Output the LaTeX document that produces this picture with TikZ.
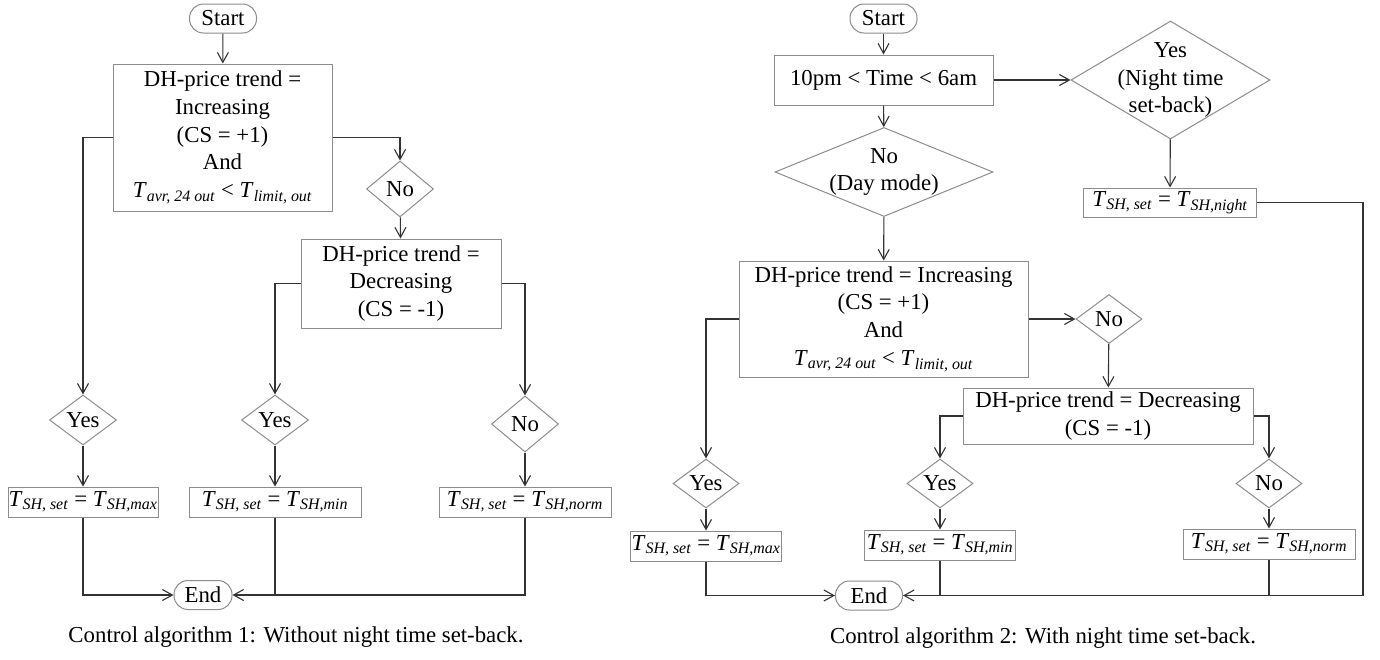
\documentclass[tikz,border=0pt]{standalone}
\usepackage{fontspec}
\setmainfont{Liberation Serif}
\usetikzlibrary{shapes.geometric,arrows.meta}
\newcommand{\tv}[2]{\textit{#1}\textsubscript{\textit{#2}}}
\begin{document}
\begin{tikzpicture}[x=1pt, y=-1pt, >={Straight Barb[length=10pt,width=11pt]},
    every node/.style={font=\fontsize{22.8}{27.7}\selectfont},
    box/.style={draw=black!45, line width=1pt, inner sep=0pt, align=center},
    dec/.style={draw=black!45, line width=1pt, diamond, aspect=1.35, inner sep=0pt, align=center},
    term/.style={draw=black!45, line width=1pt, rounded corners=14pt, inner sep=0pt},
    flow/.style={draw=black!80, line width=1.1pt}]
    \useasboundingbox (0,0) rectangle (1380,659);

    % algorithm 1
    \node[term, minimum width=67, minimum height=29] (s1) at (223,18.5) {Start};
    \node[box, minimum width=219, minimum height=147] (c1) at (222.5,137.5)
        {DH-price trend =\\Increasing\\(CS = +1)\\And\\\tv{T}{avr, 24 out} < \tv{T}{limit, out}};
    \node[dec, minimum width=67, minimum height=56] (n1) at (400,189) {No};
    \node[box, minimum width=200, minimum height=89] (c2) at (401,283.5)
        {DH-price trend =\\Decreasing\\(CS = -1)};
    \node[dec, minimum width=67, minimum height=50] (y1) at (83,420) {Yes};
    \node[dec, minimum width=67, minimum height=50] (y2) at (275,420) {Yes};
    \node[dec, minimum width=67, minimum height=56] (n2) at (525,424) {No};
    \node[box, minimum width=150, minimum height=30] (t1) at (83,502) {\tv{T}{SH, set} = \tv{T}{SH,max}};
    \node[box, minimum width=172, minimum height=30] (t2) at (275,502) {\tv{T}{SH, set} = \tv{T}{SH,min}};
    \node[box, minimum width=172, minimum height=30] (t3) at (525,502) {\tv{T}{SH, set} = \tv{T}{SH,norm}};
    \node[term, minimum width=58, minimum height=29] (e1) at (203,595) {End};
    \node (cap1) at (296,637) {Control algorithm 1: Without night time set-back.};

    \draw[flow,->] (s1) -- (c1);
    \draw[flow,->] (c1.east) -| (n1);
    \draw[flow,->] (n1) -- (c2);
    \draw[flow,->] (c1.west) -| (y1);
    \draw[flow,->] (c2.west) -| (y2);
    \draw[flow,->] (c2.east) -| (n2);
    \draw[flow,->] (y1) -- (t1);
    \draw[flow,->] (y2) -- (t2);
    \draw[flow,->] (n2) -- (t3);
    \draw[flow,->] (t1) |- (e1);
    \draw[flow] (t2) -- (t2 |- e1);
    \draw[flow,->] (t3) |- (e1);

    % algorithm 2
    \node[term, minimum width=67, minimum height=29] (s2) at (883.5,18.5) {Start};
    \node[box, minimum width=219, minimum height=50] (b1) at (883.5,80) {10pm < Time < 6am};
    \node[dec, aspect=2.45, inner xsep=-15pt, inner ysep=-10pt, minimum width=218, minimum height=89]
        (d1) at (884,172) {No\\(Day mode)};
    \node[dec, aspect=1.69, inner xsep=-20pt, inner ysep=-15pt, minimum width=199, minimum height=118]
        (d2) at (1170.5,80) {Yes\\(Night time\\set-back)};
    \node[box, minimum width=173, minimum height=29] (tn) at (1170,202.5) {\tv{T}{SH, set} = \tv{T}{SH,night}};
    \node[box, minimum width=289, minimum height=116] (c3) at (883.5,319)
        {DH-price trend = Increasing\\(CS = +1)\\And\\\tv{T}{avr, 24 out} < \tv{T}{limit, out}};
    \node[dec, minimum width=66, minimum height=49] (n3) at (1109,319) {No};
    \node[box, minimum width=290, minimum height=56] (c4) at (1108,416)
        {DH-price trend = Decreasing\\(CS = -1)};
    \node[dec, minimum width=66, minimum height=49] (y3) at (706,483.5) {Yes};
    \node[dec, minimum width=66, minimum height=49] (y4) at (940,483.5) {Yes};
    \node[dec, minimum width=66, minimum height=49] (n4) at (1269,483.5) {No};
    \node[box, minimum width=151, minimum height=30] (t4) at (706,546) {\tv{T}{SH, set} = \tv{T}{SH,max}};
    \node[box, minimum width=151, minimum height=30] (t5) at (940,545) {\tv{T}{SH, set} = \tv{T}{SH,min}};
    \node[box, minimum width=172, minimum height=30] (t6) at (1269,544) {\tv{T}{SH, set} = \tv{T}{SH,norm}};
    \node[term, minimum width=67, minimum height=29] (e2) at (869,595.5) {End};
    \coordinate (rc) at (1363,202.5);
    \node (cap2) at (1043,638) {Control algorithm 2: With night time set-back.};

    \draw[flow,->] (s2) -- (b1);
    \draw[flow,->] (b1) -- (d1);
    \draw[flow,->] (b1) -- (d2);
    \draw[flow,->] (d2) -- (tn);
    \draw[flow,->] (d1) -- (c3);
    \draw[flow,->] (c3.west) -| (y3);
    \draw[flow,->] (c3) -- (n3);
    \draw[flow,->] (n3) -- (c4);
    \draw[flow,->] (c4.west) -| (y4);
    \draw[flow,->] (c4.east) -| (n4);
    \draw[flow,->] (y3) -- (t4);
    \draw[flow,->] (y4) -- (t5);
    \draw[flow,->] (n4) -- (t6);
    \draw[flow,->] (t4) |- (e2);
    \draw[flow] (t5) -- (t5 |- e2);
    \draw[flow] (t6) -- (t6 |- e2);
    \draw[flow,->] (tn) -- (rc) |- (e2);
\end{tikzpicture}
\end{document}
